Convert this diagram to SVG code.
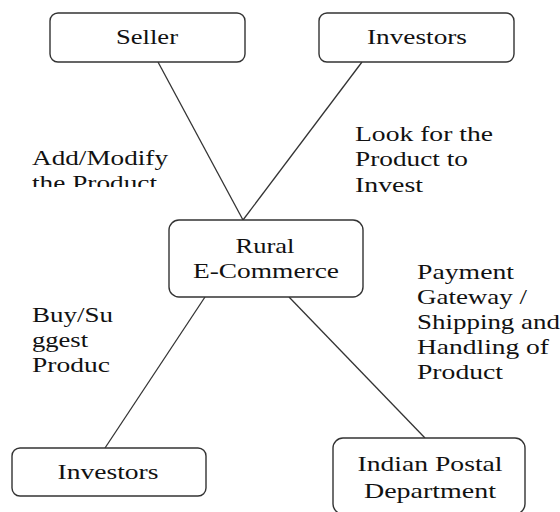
<svg xmlns="http://www.w3.org/2000/svg" width="560" height="512" viewBox="0 0 560 512">
<style>
.box{fill:#fff;stroke:#333;stroke-width:1.4}
.conn line{stroke:#333;stroke-width:1.3}
text{font-family:'Liberation Serif','Tinos','Times New Roman','Nimbus Roman','Noto Serif','DejaVu Serif','FreeSerif',serif;font-size:21px;fill:#111}
.c{text-anchor:middle}
</style>
<defs>
<clipPath id="clipAdd"><rect x="0" y="100" width="300" height="87"/></clipPath>
</defs>
<rect width="560" height="512" fill="#fff"/>
<g id="connectors" class="conn">
<line x1="158" y1="62" x2="243" y2="220"/>
<line x1="362" y1="62" x2="243" y2="220"/>
<line x1="205" y1="297" x2="105" y2="448"/>
<line x1="289" y1="297" x2="425" y2="438"/>
</g>
<g id="seller">
<rect class="box" x="50" y="13" width="195" height="49" rx="8"/>
<text class="c" x="147" y="44" textLength="62" lengthAdjust="spacingAndGlyphs">Seller</text>
</g>
<g id="investors-top">
<rect class="box" x="319" y="13" width="195" height="49" rx="8"/>
<text class="c" x="417" y="44" textLength="100" lengthAdjust="spacingAndGlyphs">Investors</text>
</g>
<g id="rural-ecommerce">
<rect class="box" x="169" y="220" width="194" height="77" rx="10"/>
<text class="c" x="265" y="253" textLength="59" lengthAdjust="spacingAndGlyphs">Rural</text>
<text class="c" x="266" y="278" textLength="146" lengthAdjust="spacingAndGlyphs">E-Commerce</text>
</g>
<g id="investors-bottom">
<rect class="box" x="12" y="448" width="194" height="48" rx="8"/>
<text class="c" x="108" y="479" textLength="101" lengthAdjust="spacingAndGlyphs">Investors</text>
</g>
<g id="indian-postal">
<rect class="box" x="333" y="438" width="192" height="76" rx="10"/>
<text class="c" x="430" y="471" textLength="145" lengthAdjust="spacingAndGlyphs">Indian Postal</text>
<text class="c" x="430" y="498" textLength="132" lengthAdjust="spacingAndGlyphs">Department</text>
</g>
<g id="label-seller" clip-path="url(#clipAdd)">
<text x="32" y="165" textLength="136" lengthAdjust="spacingAndGlyphs">Add/Modify</text>
<text x="32" y="190" textLength="125" lengthAdjust="spacingAndGlyphs">the Product</text>
</g>
<g id="label-investors-top">
<text x="355" y="141" textLength="138" lengthAdjust="spacingAndGlyphs">Look for the</text>
<text x="355" y="166" textLength="113" lengthAdjust="spacingAndGlyphs">Product to</text>
<text x="355" y="192" textLength="68" lengthAdjust="spacingAndGlyphs">Invest</text>
</g>
<g id="label-postal">
<text x="417" y="279" textLength="97" lengthAdjust="spacingAndGlyphs">Payment</text>
<text x="417" y="304" textLength="110" lengthAdjust="spacingAndGlyphs">Gateway /</text>
<text x="417" y="329" textLength="143" lengthAdjust="spacingAndGlyphs">Shipping and</text>
<text x="417" y="354" textLength="132" lengthAdjust="spacingAndGlyphs">Handling of</text>
<text x="417" y="379" textLength="86" lengthAdjust="spacingAndGlyphs">Product</text>
</g>
<g id="label-investors-bottom">
<text x="32" y="322" textLength="81" lengthAdjust="spacingAndGlyphs">Buy/Su</text>
<text x="32" y="347" textLength="56" lengthAdjust="spacingAndGlyphs">ggest</text>
<text x="32" y="372" textLength="78" lengthAdjust="spacingAndGlyphs">Produc</text>
</g>
</svg>
